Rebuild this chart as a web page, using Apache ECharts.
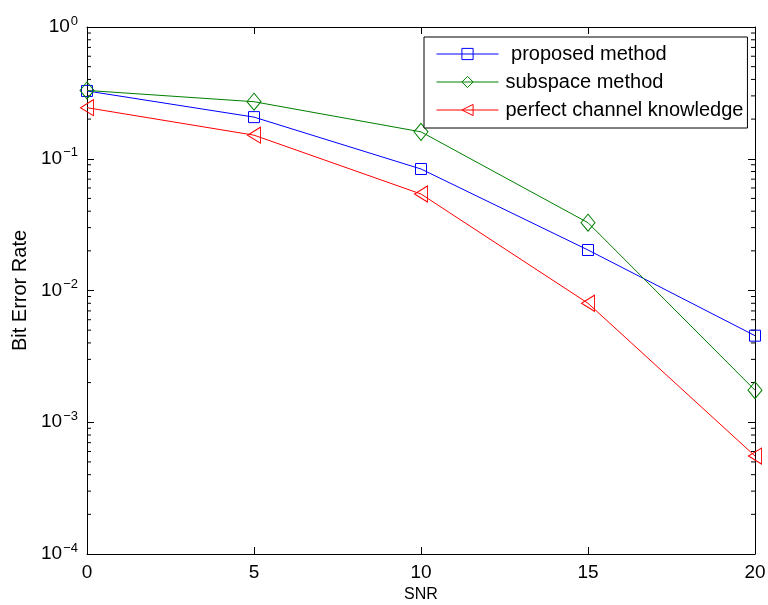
<!DOCTYPE html>
<html>
<head>
<meta charset="utf-8">
<script src="https://cdn.jsdelivr.net/npm/echarts@6/dist/echarts.min.js"></script>
<style>
html,body{margin:0;padding:0;background:#fff;}
#chart{width:768px;height:605px;}
</style>
</head>
<body>
<div id="chart"></div>
<script>
// ---- data ----
var snr = [0, 5, 10, 15, 20];
var proposed = [0.327, 0.207, 0.0836, 0.0203, 0.00454];
var subspace = [0.330, 0.271, 0.160, 0.0327, 0.00175];
var perfect = [0.244, 0.151, 0.054, 0.0080, 0.000554];
var seriesNames = [' proposed method', 'subspace method', 'perfect channel knowledge'];
var xTicks = [0, 5, 10, 15, 20];
var minorTickValues = [];
[-4, -3, -2, -1].forEach(function (k) {
  for (var m = 2; m <= 9; m++) minorTickValues.push(m * Math.pow(10, k));
});

function pairs(xs, ys) { return xs.map(function (x, i) { return [x, ys[i]]; }); }

var FONT = 'Liberation Sans, Arial, Helvetica, sans-serif';
var chart = echarts.init(document.getElementById('chart'), null, {renderer: 'canvas'});

function supLabel(v) {
  var e = Math.round(Math.log10(v));
  var s = e < 0 ? '\u2212' + (-e) : String(e);
  return '{b|10}{s|' + s + '}';
}

var yCommon = {
  type: 'log', logBase: 10, min: 0.0001, max: 1,
  axisLine: {show: true, onZero: false, lineStyle: {color: '#000', width: 1}},
  axisTick: {show: true, inside: true, length: 7, lineStyle: {color: '#000'}},
  splitLine: {show: false},
  minorTick: {show: false}
};
var xCommon = {
  type: 'value', min: 0, max: 20, interval: 5,
  axisLine: {show: true, onZero: false, lineStyle: {color: '#000', width: 1}},
  axisTick: {show: true, inside: true, length: 7, lineStyle: {color: '#000'}},
  splitLine: {show: false}
};

var option = {
  backgroundColor: '#fff',
  animation: false,
  grid: {left: 87, right: 13, top: 27, bottom: 51, containLabel: false, outerBoundsMode: 'none'},
  xAxis: [
    Object.assign({}, xCommon, {
      position: 'bottom',
      name: 'SNR', nameLocation: 'middle', nameGap: 33,
      nameTextStyle: {fontFamily: FONT, fontSize: 16, color: '#000'},
      axisLabel: {margin: 9, fontFamily: FONT, fontSize: 19, color: '#000'}
    }),
    Object.assign({}, xCommon, {position: 'top', axisLabel: {show: false}})
  ],
  yAxis: [
    Object.assign({}, yCommon, {
      position: 'left',
      name: 'Bit Error Rate', nameLocation: 'middle', nameGap: 56,
      nameTextStyle: {fontFamily: FONT, fontSize: 20, color: '#000'},
      axisLabel: {
        margin: 9, color: '#000',
        formatter: supLabel,
        rich: {
          b: {fontFamily: FONT, fontSize: 19, color: '#000'},
          s: {fontFamily: FONT, fontSize: 13, color: '#000', padding: [0, 0, 12, 1]}
        }
      }
    }),
    Object.assign({}, yCommon, {position: 'right', axisLabel: {show: false}})
  ],
  legend: {
    data: seriesNames,
    orient: 'vertical',
    left: 424, top: 37,
    padding: [7, 4, 8, 12],
    itemGap: 8,
    itemWidth: 62, itemHeight: 14,
    backgroundColor: '#fff',
    borderColor: '#000', borderWidth: 1, borderRadius: 0,
    lineStyle: {width: 1},
    itemStyle: {borderWidth: 1},
    textStyle: {fontFamily: FONT, fontSize: 20, lineHeight: 20, color: '#000', padding: [0, 0, 0, 2]}
  },
  series: [
    {
      name: seriesNames[0], type: 'line', data: pairs(snr, proposed),
      symbol: 'rect', symbolSize: 11,
      itemStyle: {color: 'rgba(0,0,0,0)', borderColor: '#0000ff', borderWidth: 1},
      lineStyle: {color: '#0000ff', width: 1},
      z: 3
    },
    {
      name: seriesNames[1], type: 'line', data: pairs(snr, subspace),
      symbol: 'diamond', symbolSize: [14, 17],
      itemStyle: {color: 'rgba(0,0,0,0)', borderColor: '#008000', borderWidth: 1},
      lineStyle: {color: '#008000', width: 1},
      z: 3
    },
    {
      name: seriesNames[2], type: 'line', data: pairs(snr, perfect),
      symbol: 'path://M0,5 L10,0 L10,10 Z', symbolSize: [13, 16],
      itemStyle: {color: 'rgba(0,0,0,0)', borderColor: '#ff0000', borderWidth: 1},
      lineStyle: {color: '#ff0000', width: 1},
      z: 3
    },
    {
      name: 'minorTicks', type: 'custom', silent: true, clip: false, z: 2,
      data: minorTickValues.map(function (v) { return [0, v]; }),
      renderItem: function (params, api) {
        var v = api.value(1);
        var a = api.coord([xTicks[0], v]);
        var b = api.coord([xTicks[xTicks.length - 1], v]);
        var st = {stroke: '#000', lineWidth: 1};
        return {
          type: 'group',
          children: [
            {type: 'line', shape: {x1: a[0], y1: a[1], x2: a[0] + 4, y2: a[1]}, style: st},
            {type: 'line', shape: {x1: b[0], y1: b[1], x2: b[0] - 4, y2: b[1]}, style: st}
          ]
        };
      }
    }
  ]
};
chart.setOption(option);
</script>
</body>
</html>
